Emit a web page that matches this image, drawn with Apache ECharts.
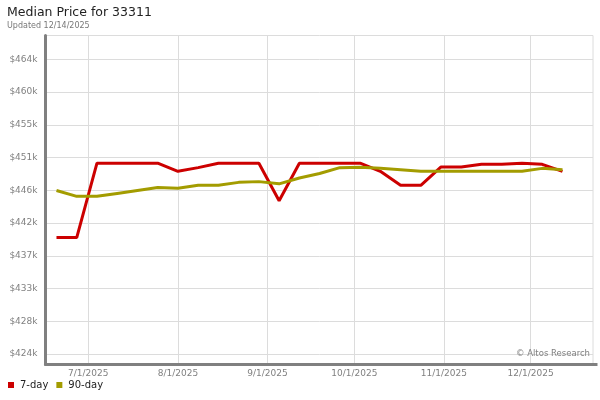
<!DOCTYPE html>
<html><head><meta charset="utf-8">
<script src="https://cdn.jsdelivr.net/npm/echarts@6/dist/echarts.min.js"></script>
<style>html,body{margin:0;padding:0;background:#fff}#c{width:600px;height:400px}</style>
</head><body><div id="c"></div>
<script>
const dates = ['2025-06-20','2025-06-27','2025-07-04','2025-07-11','2025-07-18','2025-07-25',
  '2025-08-01','2025-08-08','2025-08-15','2025-08-22','2025-08-29','2025-09-05','2025-09-12',
  '2025-09-19','2025-09-26','2025-10-03','2025-10-10','2025-10-17','2025-10-24','2025-10-31',
  '2025-11-07','2025-11-14','2025-11-21','2025-11-28','2025-12-05','2025-12-12'];
const sevenDay = [439800, 439800, 449900, 449900, 449900, 449900, 448800, 449300, 449900, 449900,
  449900, 444800, 449900, 449900, 449900, 449900, 448800, 446900, 446900, 449400,
  449400, 449750, 449750, 449900, 449750, 448800];
const ninetyDay = [446200, 445400, 445400, 445800, 446200, 446600, 446500, 446900, 446900, 447300,
  447400, 447100, 447900, 448500, 449300, 449350, 449200, 449000, 448800, 448800,
  448800, 448800, 448800, 448800, 449200, 449000];
const yTickValues = [424000, 428444, 432889, 437333, 441778, 446222, 450667, 455111, 459556, 464000];
const xTickDates = ['2025-07-01','2025-08-01','2025-09-01','2025-10-01','2025-11-01','2025-12-01'];

const FONT = 'DejaVu Sans';
const DAY = 86400000;
function ts(s){ const p = s.split('-').map(Number); return Date.UTC(p[0], p[1]-1, p[2]); }
const xTicks = xTickDates.map(ts);
const ref = ts('2025-07-01');

const chart = echarts.init(document.getElementById('c'), null, {renderer:'canvas'});
chart.setOption({
  animation: false,
  textStyle: {fontFamily: FONT},
  title: {
    text: 'Median Price for 33311', subtext: 'Updated 12/14/2025',
    left: 7, top: 6, padding: 0, itemGap: 3,
    textStyle: {fontSize: 12.5, fontWeight: 'normal', color: '#222', fontFamily: FONT},
    subtextStyle: {fontSize: 8, color: '#777', fontFamily: FONT}
  },
  legend: {
    data: ['7-day', '90-day'], left: 8, top: 380, padding: 0,
    icon: 'rect', itemWidth: 6, itemHeight: 6, itemGap: 8,
    textStyle: {fontSize: 10, color: '#222', fontFamily: FONT, padding: [0, 0, 0, 1]}
  },
  grid: {left: 45.5, right: 7, top: 35.5, bottom: 35.5, show: true,
    borderColor: '#dcdcdc', borderWidth: 1, backgroundColor: '#fff'},
  xAxis: {
    type: 'value', min: ref - 14.8 * DAY, max: ref + 174.55 * DAY,
    axisLine: {show: true, lineStyle: {color: '#808080', width: 3}},
    axisTick: {show: false, customValues: xTicks},
    axisLabel: {customValues: xTicks, color: '#808080', fontSize: 9, margin: 5, fontFamily: FONT,
      formatter: v => { const d = new Date(v); return (d.getUTCMonth()+1) + '/' + d.getUTCDate() + '/' + d.getUTCFullYear(); }},
    splitLine: {show: true, lineStyle: {color: '#dcdcdc', width: 1}}
  },
  yAxis: {
    type: 'value', min: 422575, max: 467236,
    axisLine: {show: true, lineStyle: {color: '#808080', width: 3}},
    axisTick: {show: false, customValues: yTickValues},
    axisLabel: {customValues: yTickValues, color: '#808080', fontSize: 9, margin: 8, fontFamily: FONT,
      formatter: v => '$' + Math.round(v / 1000) + 'k'},
    splitLine: {show: true, lineStyle: {color: '#dcdcdc', width: 1}}
  },
  graphic: [
    {type: 'line', shape: {x1: 593, y1: 364.5, x2: 597.5, y2: 364.5}, style: {stroke: '#808080', lineWidth: 3}, z: 100},
    {type: 'text', x: 590, y: 354, z: 100, style: {text: '© Altos Research', font: '8.5px "DejaVu Sans"', fill: '#808080', align: 'right', verticalAlign: 'middle'}}
  ],
  series: [
    {name: '7-day', type: 'line', showSymbol: false, color: '#cc0000',
      lineStyle: {width: 3, color: '#cc0000'},
      data: dates.map((d, i) => [ts(d), sevenDay[i]])},
    {name: '90-day', type: 'line', showSymbol: false, color: '#a39c00',
      lineStyle: {width: 3, color: '#a39c00'},
      data: dates.map((d, i) => [ts(d), ninetyDay[i]])}
  ]
});
</script></body></html>
